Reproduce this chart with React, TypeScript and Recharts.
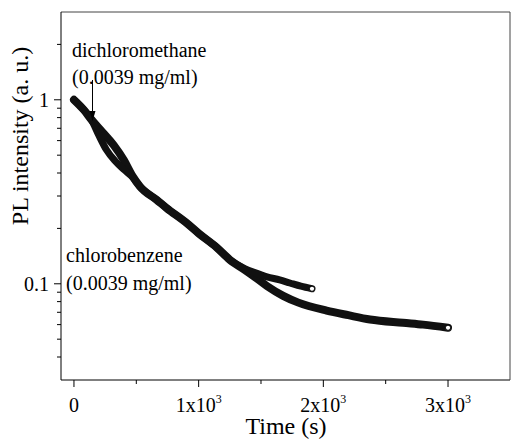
import { LineChart, Line, XAxis, YAxis } from 'recharts';

// time (s) and normalised PL intensity
const dcmTime = [0, 80, 140, 200, 260, 330, 400, 470, 529, 663, 743, 900, 1000, 1147, 1250, 1370, 1450, 1548, 1650, 1732, 1820, 1909];
const dcmPL = [1.0, 0.88, 0.78, 0.64, 0.535, 0.465, 0.418, 0.38, 0.338, 0.286, 0.258, 0.215, 0.188, 0.157, 0.135, 0.121, 0.115, 0.109, 0.105, 0.101, 0.097, 0.094];

const cbTime = [0, 80, 140, 230, 320, 400, 470, 529, 663, 743, 900, 1000, 1147, 1250, 1370, 1450, 1550, 1678, 1800, 2026, 2200, 2374, 2638, 2800, 3000];
const cbPL = [1.0, 0.88, 0.78, 0.665, 0.565, 0.47, 0.385, 0.338, 0.286, 0.258, 0.215, 0.188, 0.157, 0.135, 0.119, 0.109, 0.097, 0.086, 0.079, 0.0715, 0.0675, 0.064, 0.0614, 0.06, 0.0577];

const xTicks = [0, 500, 1000, 1500, 2000, 2500, 3000];
const xMajor = [0, 1000, 2000, 3000];
const yTicks = [0.04, 0.05, 0.06, 0.07, 0.08, 0.09, 0.1, 0.2, 0.3, 0.4, 0.5, 0.6, 0.7, 0.8, 0.9, 1, 2];
const yMajor = [0.1, 1];

const dcm = dcmTime.map((t, i) => ({ t, pl: dcmPL[i] }));
const cb = cbTime.map((t, i) => ({ t, pl: cbPL[i] }));

const FONT = '"Liberation Serif", "Times New Roman", serif';

const XTick = (props: any) => {
  const { x, y, payload } = props;
  const v = payload.value;
  const major = xMajor.includes(v);
  return (
    <g>
      <line x1={x} x2={x} y1={y} y2={y + (major ? 7 : 4)} stroke="#000" />
      {major && (
        <text x={x} y={y + 32} textAnchor="middle" fontFamily={FONT} fontSize={20} fill="#000">
          {v === 0 ? '0' : `${v / 1000}x10`}
          {v !== 0 && (
            <tspan fontSize={12} dy={-9}>3</tspan>
          )}
        </text>
      )}
    </g>
  );
};

const YTick = (props: any) => {
  const { x, y, payload } = props;
  const v = payload.value;
  const major = yMajor.includes(v);
  return (
    <g>
      <line x1={x - (major ? 7 : 4)} x2={x} y1={y} y2={y} stroke="#000" />
      {major && (
        <text x={x - 12} y={y + 7} textAnchor="end" fontFamily={FONT} fontSize={20} fill="#000">
          {v}
        </text>
      )}
    </g>
  );
};

const endDot = (len: number) => (props: any) => {
  const { cx, cy, index } = props;
  if (index !== len - 1) return <g key={`d${index}`} />;
  return <circle key={`d${index}`} cx={cx} cy={cy} r={2.6} fill="#fff" stroke="#000" strokeWidth={1} />;
};

export default function App() {
  return (
    <div style={{ position: 'absolute', left: 0, top: 0, width: 511, height: 440, background: '#fff' }}>
      <LineChart width={511} height={440} margin={{ top: 0, right: 0, left: 0, bottom: 0 }}>
        <XAxis
          xAxisId="b"
          dataKey="t"
          type="number"
          domain={[-104, 3497]}
          allowDataOverflow
          ticks={xTicks}
          interval={0}
          tickLine={false}
          tickSize={0}
          tickMargin={0}
          tick={<XTick />}
          height={60}
          axisLine={{ stroke: '#000' }}
        />
        <XAxis
          xAxisId="t"
          orientation="top"
          type="number"
          domain={[-104, 3497]}
          height={12}
          tick={false}
          tickLine={false}
          axisLine={{ stroke: '#444' }}
        />
        <YAxis
          yAxisId="l"
          scale="log"
          type="number"
          domain={[0.03, 3]}
          allowDataOverflow
          ticks={yTicks}
          interval={0}
          tickLine={false}
          tickSize={0}
          tickMargin={0}
          tick={<YTick />}
          width={61}
          axisLine={{ stroke: '#000' }}
        />
        <YAxis
          yAxisId="r"
          orientation="right"
          scale="log"
          type="number"
          domain={[0.03, 3]}
          width={1}
          tick={false}
          tickLine={false}
          axisLine={{ stroke: '#444' }}
        />
        <Line
          xAxisId="b"
          yAxisId="l"
          data={cb}
          dataKey="pl"
          name="chlorobenzene"
          type="monotone"
          stroke="#111"
          strokeWidth={8}
          strokeLinejoin="round"
          strokeLinecap="round"
          dot={endDot(cb.length)}
          activeDot={false}
          isAnimationActive={false}
        />
        <Line
          xAxisId="b"
          yAxisId="l"
          data={dcm}
          dataKey="pl"
          name="dichloromethane"
          type="monotone"
          stroke="#111"
          strokeWidth={7}
          strokeLinejoin="round"
          strokeLinecap="round"
          dot={endDot(dcm.length)}
          activeDot={false}
          isAnimationActive={false}
        />
      </LineChart>
      <svg
        width={511}
        height={440}
        style={{ position: 'absolute', left: 0, top: 0, pointerEvents: 'none' }}
        fontFamily={FONT}
        fontSize={20}
      >
        <text x={72} y={57}>dichloromethane</text>
        <text x={72} y={84}>(0.0039 mg/ml)</text>
        <line x1={92.5} x2={92.5} y1={80} y2={114} stroke="#000" strokeWidth={1} />
        <path d="M89.5,111 L95.5,111 L92.5,121 Z" fill="#000" />
        <text x={66} y={262}>chlorobenzene</text>
        <text x={66} y={290}>(0.0039 mg/ml)</text>
        <text x={286} y={434} textAnchor="middle" fontSize={24}>Time (s)</text>
        <text x={28} y={136} textAnchor="middle" fontSize={24} transform="rotate(-90 28 136)">
          PL intensity (a. u.)
        </text>
      </svg>
    </div>
  );
}
